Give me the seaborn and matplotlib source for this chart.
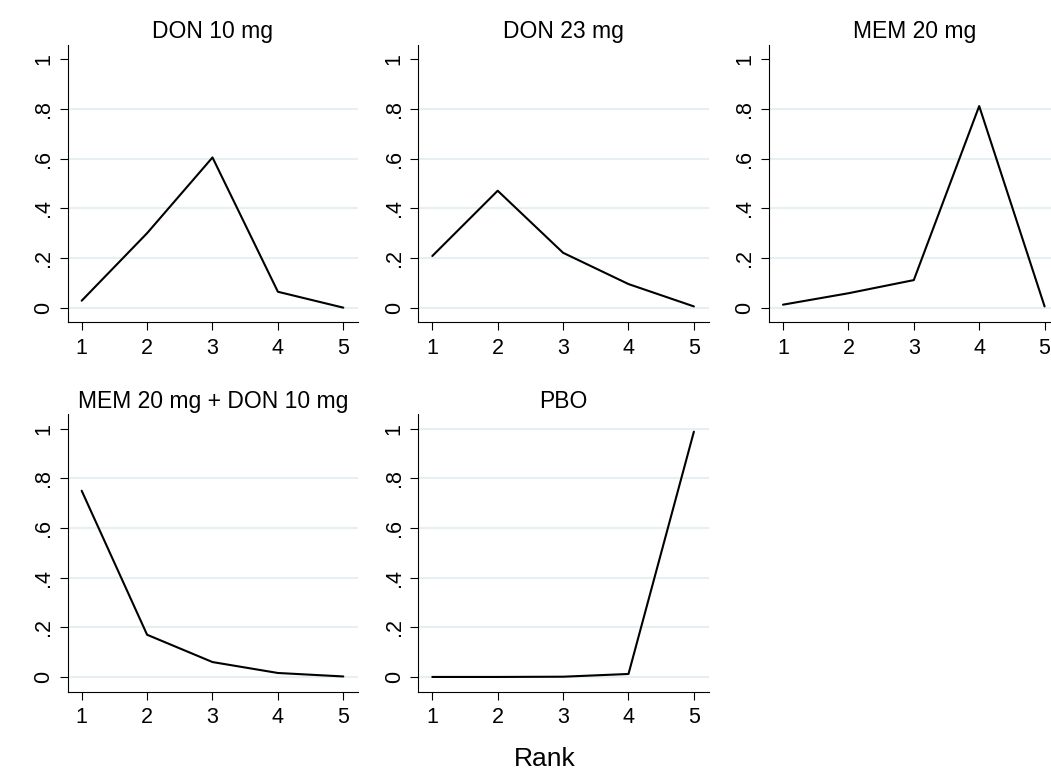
import matplotlib
matplotlib.use("Agg")
import matplotlib.pyplot as plt
import seaborn as sns
import pandas as pd

# Rank probabilities for each treatment
ranks = [1, 2, 3, 4, 5]
treatments = ["DON 10 mg", "DON 23 mg", "MEM 20 mg", "MEM 20 mg + DON 10 mg", "PBO"]
don10 = [0.028, 0.300, 0.605, 0.064, 0.000]
don23 = [0.208, 0.471, 0.221, 0.095, 0.005]
mem20 = [0.012, 0.058, 0.111, 0.812, 0.005]
mem_don = [0.750, 0.170, 0.060, 0.016, 0.002]
pbo = [0.000, 0.000, 0.001, 0.012, 0.988]
ytick_vals = [0, 0.2, 0.4, 0.6, 0.8, 1]
ytick_labels = ["0", ".2", ".4", ".6", ".8", "1"]

series = [don10, don23, mem20, mem_don, pbo]
frames = []
for name, vals in zip(treatments, series):
    frames.append(pd.DataFrame({"treatment": name, "rank": ranks, "prob": vals}))
df = pd.concat(frames, ignore_index=True)

sns.set_theme(style="white")
plt.rcParams["font.family"] = ["Liberation Sans", "DejaVu Sans"]
plt.rcParams["text.color"] = "black"
plt.rcParams["xtick.color"] = "black"
plt.rcParams["ytick.color"] = "black"

W, H = 1051, 770
fig = plt.figure(figsize=(W / 100, H / 100), dpi=100)
fig.patch.set_facecolor("white")

# panel boxes in pixels: (left, top, width, height)
lefts = [67.7, 418.3, 769.0]
tops = [45.0, 414.3]
pw, ph = 290.3, 277.3
positions = [(lefts[0], tops[0]), (lefts[1], tops[0]), (lefts[2], tops[0]),
             (lefts[0], tops[1]), (lefts[1], tops[1])]

grid_color = "#E6EFF2"
for i, name in enumerate(treatments):
    lx, ty = positions[i]
    ax = fig.add_axes([lx / W, (H - ty - ph) / H, pw / W, ph / H])
    sub = df[df["treatment"] == name]
    grid_vals = [0, 0.2, 0.4, 0.6, 0.8] + ([1.0] if name == "PBO" else [])
    for g in grid_vals:
        ax.axhline(g, color=grid_color, lw=1.5, zorder=0)
    sns.lineplot(data=sub, x="rank", y="prob", ax=ax, color="black",
                 lw=1.5, zorder=3)
    ax.set_xlim(0.786, 5.225)
    ax.set_ylim(-0.059, 1.058)
    ax.set_xticks(ranks)
    ax.set_xticklabels([str(r) for r in ranks], fontsize=15.5)
    ax.set_yticks(ytick_vals)
    ax.set_yticklabels(ytick_labels, fontsize=15.5, rotation=90, va="center")
    ax.tick_params(axis="both", which="both", direction="out", length=5.8,
                   width=0.8, color="black", left=True, bottom=True,
                   labelcolor="black")
    ax.tick_params(axis="x", pad=5.5)
    ax.tick_params(axis="y", pad=4)
    ax.set_xlabel("")
    ax.set_ylabel("")
    for s in ["top", "right"]:
        ax.spines[s].set_visible(False)
    for s in ["left", "bottom"]:
        ax.spines[s].set_color("black")
        ax.spines[s].set_linewidth(0.8)
    ax.set_facecolor("white")
    ax.set_title(name, fontsize=16.5, pad=4.8, color="black")

fig.text(545 / W, 4 / H, "Rank", fontsize=19, ha="center", va="baseline",
         color="black")

fig.savefig("out.png", dpi=100, facecolor="white")
